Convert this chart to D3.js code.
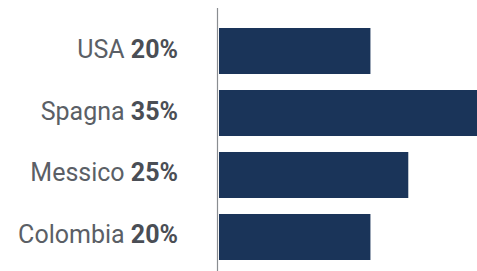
<!DOCTYPE html>
<html>
<head>
<meta charset="utf-8">
<script src="https://cdn.jsdelivr.net/npm/d3@7"></script>
<style>
  html, body { margin: 0; padding: 0; background: #fff; overflow: hidden; }
  svg { display: block; font-family: Roboto, sans-serif; }
</style>
</head>
<body>
<div id="chart"></div>
<script>
const countries = ["USA", "Spagna", "Messico", "Colombia"];
const shares = [20, 35, 25, 20];
const shareLabels = ["20%", "35%", "25%", "20%"];

const width = 477;
const height = 271;
const axisX = 217.5;

const svg = d3.select("#chart").append("svg")
  .attr("width", width)
  .attr("height", height);

const y = d3.scaleBand()
  .domain(countries)
  .range([8, 280])
  .paddingInner(0.258)
  .paddingOuter(0.3226);

const x = d3.scaleLinear()
  .domain([0, 35])
  .range([219, 484]);

const rows = countries.map((c, i) => ({ country: c, value: shares[i], label: shareLabels[i] }));

svg.selectAll(".bar")
  .data(rows)
  .enter()
  .append("rect")
  .attr("class", "bar")
  .attr("x", x(0))
  .attr("y", d => y(d.country))
  .attr("width", d => x(d.value) - x(0))
  .attr("height", y.bandwidth())
  .attr("fill", "#1a3459");

// vertical axis line
svg.append("line")
  .attr("x1", axisX)
  .attr("x2", axisX)
  .attr("y1", y.range()[0])
  .attr("y2", y.range()[1])
  .attr("stroke", "#8a8d91")
  .attr("stroke-width", 1.2);

const labels = svg.selectAll(".label")
  .data(rows)
  .enter()
  .append("text")
  .attr("class", "label")
  .attr("x", 178)
  .attr("y", d => y(d.country) + y.bandwidth() / 2)
  .attr("dy", "0.26em")
  .attr("text-anchor", "end")
  .attr("font-size", 25);

labels.append("tspan")
  .attr("fill", "#5b5f66")
  .text(d => d.country + " ");

labels.append("tspan")
  .attr("fill", "#4a4e55")
  .attr("font-weight", "bold")
  .text(d => d.label);
</script>
</body>
</html>
